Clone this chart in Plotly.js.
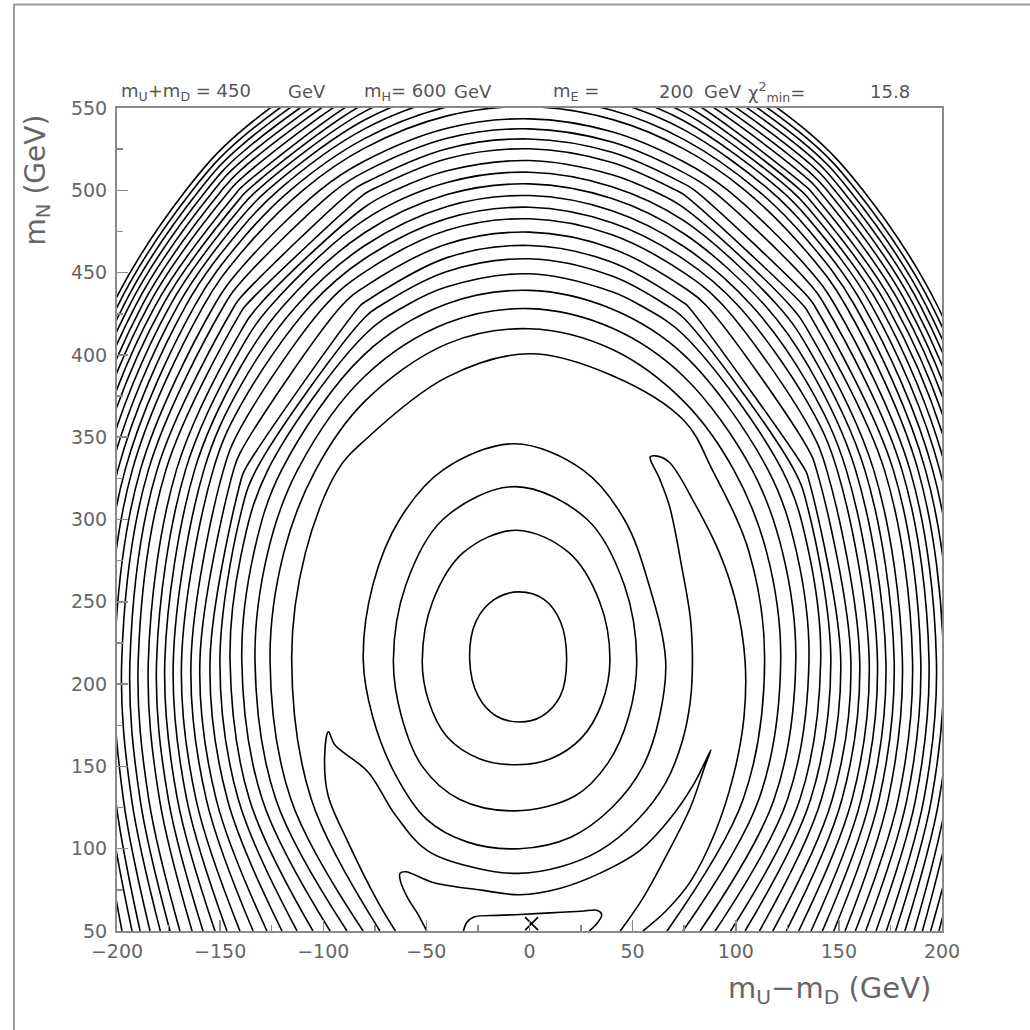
<!DOCTYPE html>
<html>
<head>
<meta charset="utf-8">
<script src="https://cdn.plot.ly/plotly-3.0.1.min.js"></script>
<style>
  html, body { margin: 0; padding: 0; background: #ffffff; }
  #chart { width: 1030px; height: 1030px; }
</style>
</head>
<body>
<div id="chart"></div>
<script>
// ---------- data ----------
// Outer contour family (index 0 = first contour outside the central ridge).
// Each array gives where contour j crosses one reading ray (null: no crossing).
const botL  = [-72.5,-80.7,-88.5,-96.7,-105,-112.7,-120,-127.3,-134,-140.4,-146.7,-152.5,-158.3,-163.6,-169.5,-174.3,-179,-184,-188.8,-192.7,-197.6,-201.5,-205.3,-209,-212.6,-216.1,-219.5,-222.8,-226,-229.1,-232.1,-235]; // x at y=50, left
const l130  = [-105.8,-115.7,-123.0,-129.6,-135.8,-141.2,-146.5,-151.9,-156.7,-161.7,-166.2,-170.7,-175.1,-179.4,-184.6,-188.8,-192.9,-196.9,-200.7,-204.2,-207.9,-211.4,-214.7,-217.9,-221.0,-224.0,-226.9,-229.7,-232.4,-235.0,-237.5,-239.9]; // x at y=130, left
const l215  = [-115.3,-125.8,-133.1,-139.5,-145.2,-150.1,-154.9,-159.8,-164.1,-168.7,-172.7,-176.8,-180.8,-184.8,-189.7,-193.7,-197.7,-201.3,-204.8,-208.2,-211.5,-214.7,-217.8,-220.8,-223.7,-226.5,-229.2,-231.8,-234.3,-236.7,-239,-241.2]; // x at y=214.5, left
const l280  = [-108.6,-119.1,-126.9,-133.6,null,null,null,null,null,null,null,null,null,null,null,null,null,null,null,null,null,null,null,null,null,null,null,null,null,null,null,null]; // x at y=280, left
const l330  = [-93,-103.7,-112.5,-120.2,-126.9,-132.6,-138.1,-143.5,-148.4,-153.4,-157.9,-162.4,-166.8,-171.2,-176.3,-180.6,-184.8,-188.7,-192.6,-196.1,-199.6,-203.0,-206.3,-209.4,-212.4,-215.4,-218.2,-220.9,-223.5,-226.0,-228.4,-230.7]; // x at y=330, left
const t140L = [null,null,null,null,277.5,303.4,323.5,341.2,355.8,369.5,381.3,392.8,403.7,414.3,425.8,435.0,444.1,452.5,461.7,469.2,476.4,483.2,489.5,495.6,501.5,507.0,512.3,517.3,522.2,526.9,531.4,535.8]; // y at x=-140
const l430  = [null,null,null,null,-59.8,-72.2,-82.0,-91.0,-99.1,-106.2,-112.8,-119.2,-125.3,-131.2,-137.6,-142.9,-148.1,-152.9,-158.0,-162.3,-166.6,-170.5,-174.3,-177.9,-181.4,-184.8,-187.9,-191.0,-194.0,-196.8,-199.6,-202.2]; // x at y=430, left
const l500  = [null,null,null,null,null,null,null,null,null,null,null,null,null,-65.2,-77.0,-85.8,-94.1,-101.7,-109.9,-116.0,-121.8,-127.1,-132.0,-136.7,-141.1,-145.3,-149.2,-153.0,-156.6,-160.1,-163.4,-166.6]; // x at y=500, left
const t80L  = [348,371.6,386.9,400.3,412.1,422.6,432.0,441.3,450.3,458.4,466.3,474.2,482.0,489.7,497.8,504.4,511.2,517.8,525.6,531.4,537.3,542.7,547.8,552.6,557.4,561.9,566.3,570.5,574.5,578.5,582.3,586.1]; // y at x=-80
const t40L  = [386.5,406.7,419.4,431.0,441.4,450.7,459.1,467.4,475.7,482.9,490.2,497.4,504.7,511.9,519.2,525.3,531.6,537.7,545.2,550.7,556.2,561.3,566.1,570.7,575.7,579.9,583.8,587.7,591.4,595.1,598.6,602.2]; // y at x=-40
const apex  = [400.7,415.9,428.1,439.2,449.3,458.4,466.5,474.6,482.7,489.7,496.8,503.9,511.0,518.1,525.2,531.2,537.3,543.4,550.8,556.2,561.6,566.6,571.3,575.8,580.2,584.4,588.4,592.3,596.1,599.8,603.4,607]; // y at x=0
const t40R  = [387.5,403.4,416.3,427.9,438.4,447.9,456.3,464.7,473.0,480.3,487.6,495.0,502.2,509.5,516.9,523.1,529.3,535.6,543.1,548.6,554.1,559.3,564.1,568.7,574.2,578.4,582.4,586.3,590.1,593.8,597.4,601]; // y at x=40
const t75R  = [360,371.5,386.6,399.9,411.8,422.1,431.5,440.8,449.8,457.9,465.7,473.6,481.4,489.2,497.2,503.9,510.6,517.2,525.0,530.8,536.7,542.1,547.2,552.1,556.8,561.4,565.7,569.9,574.0,577.9,581.7,585.6]; // y at x=75
const r500  = [null,null,null,null,null,null,null,null,null,null,null,null,null,59.2,71.1,80.1,88.5,96.2,104.5,110.6,116.5,121.9,126.8,131.5,136.0,140.2,144.2,148.0,151.6,155.1,158.4,161.7]; // x at y=500, right
const r430  = [null,null,null,null,53.9,66.6,76.5,85.7,93.9,101.1,107.7,114.2,120.3,126.3,132.8,138.1,143.3,148.2,153.3,157.7,161.9,165.9,169.7,173.3,176.8,180.2,183.4,186.5,189.5,192.3,195.1,197.7]; // x at y=430, right
const t135R = [null,null,null,null,282.5,306.7,325.9,343.0,357.3,370.7,382.2,393.6,404.3,414.8,426.1,435.3,444.3,452.7,461.7,469.2,476.4,483.1,489.4,495.5,501.3,506.8,512.0,517.1,522.0,526.6,531.1,535.5]; // y at x=135
const r330  = [88.7,99.1,108.0,115.7,122.5,128.3,133.7,139.2,144.1,149.2,153.6,158.1,162.6,166.9,172.1,176.4,180.6,184.5,188.4,192.0,195.5,198.9,202.1,205.3,208.3,211.2,214.0,216.7,219.3,221.8,224.2,226.5]; // x at y=330, right
const r280  = [106.5,115.0,122.7,129.5,null,null,null,null,null,null,null,null,null,null,null,null,null,null,null,null,null,null,null,null,null,null,null,null,null,null,null,null]; // x at y=280, right
const r215  = [114,121.8,129.1,135.5,141.2,146.1,150.9,155.8,160.1,164.7,168.7,172.8,176.8,180.8,185.7,189.7,193.7,197.3,200.8,204.2,207.5,210.7,213.8,216.8,219.7,222.5,225.2,227.8,230.3,232.7,235.0,237.2]; // x at y=214.5, right
const r130  = [103.6,111.2,118.6,125.1,131.1,136.3,141.5,146.8,151.5,156.4,160.8,165.2,169.5,173.9,178.8,183.0,187.2,191.2,194.9,198.6,202.2,205.6,209.8,212.8,215.7,218.5,221.2,223.8,226.3,228.7,231,233.2]; // x at y=130, right
const botR  = [66.7,74.4,82.7,90,97.5,104.5,111.5,118,124.5,130.5,136.5,142,147.5,153,158,163,168,173,177.5,182,186.5,190.5,194.5,198.5,202.5,206.3,210,213.6,217.1,220.5,223.8,227]; // x at y=50, right

// Inner contours around the local minimum (traced)
const ringE_x = [-5,-16,-25,-29,-26,-17,-5,7,15,18,15,6,-5];
const ringE_y = [177,180.5,193,214.5,238,251.5,256,251.5,238,214.5,193,180.5,177];
const ringD_x = [-6.5,-24,-40,-49,-52,-47,-32,-6.5,19,34,39,35,25,10,-6.5];
const ringD_y = [151,154.5,168,190,214.5,250,280,293.5,280,250,214.5,188,167,154.5,151];
const ringC_x = [-7,-34,-52,-62,-66,-60,-42,-7,28,46,52,48,38,22,-7];
const ringC_y = [123,130,150,180,214.5,260,300,320,300,260,214.5,180,152,132,123];
const ringB_x = [-5,-30,-50,-65,-76,-80.6,-76,-63,-42,-7.3,26,46,58,66,63,55,40,20,-5];
const ringB_y = [100,104,118,145,180,214.5,260,300,330,346,330,300,260,214.5,180,150,125,107,100];
// Horseshoe valley contour (left and right "bananas")
const valley_x = [-65,-73.5,-88,-97.7,-99.3,-97.5,-94.3,-78.3,-65,-49.7,-25,-5,15,34.2,52,66,74,78,79,78,74,68,63,58.5,62,68,80,92,100,104.5,104,99,90,78,66,55];
const valley_y = [50,67.7,104,132.6,157,171,163,146.6,120.4,99,88,85,89,99,117,140,165,190,214.5,240,270,307.5,325,338,338.5,334.5,310,280,250,214.5,180,145,110,80,62,50];
// Lower valley contour
const lowValley_x = [-49.8,-54,-59,-62.5,-62.8,-60,-46.8,-22.5,-4.6,15,34,53.6,68,80,86,88,85,78,66,55,44];
const lowValley_y = [50,60,70,80,85,86,79.5,74.7,72,76,85,99,118,140,155,160,150,125,95,70,50];
// Contour around the global minimum
const minRing_x = [-32,-30.5,-27,-15,-4.6,10,25,33,35,33,29];
const minRing_y = [50,55,58.5,59.5,60,61,62,62.5,60,55,50];
// Best-fit point
const best_x = [1];
const best_y = [54.5];

// Axis ticks
const xTicks = [-200,-150,-100,-50,0,50,100,150,200];
const yTicks = [50,100,150,200,250,300,350,400,450,500,550];

// Header texts (left edge in pixels)
const header = [
  {t:'m<sub>U</sub>+m<sub>D</sub> = 450', px:119},
  {t:'GeV', px:286},
  {t:'m<sub>H</sub>= 600', px:362},
  {t:'GeV', px:452},
  {t:'m<sub>E</sub> =', px:551},
  {t:'200', px:657},
  {t:'GeV', px:702},
  {t:'χ<sup>2</sup><sub>min</sub>=', px:746},
  {t:'15.8', px:868}
];

// ---------- build ----------
const CX = -3.5, CY = 214.5; // reference point used only to order ray readings
const lineStyle = {color:'#000', width:1.6, shape:'spline', smoothing:1};
const traces = [];

for (let j = 0; j < apex.length; j++) {
  const pts = [];
  const add = (x, y) => { if (x !== null && y !== null) pts.push([x, y]); };
  add(botL[j], 50); add(l130[j], 130); add(l215[j], 214.5); add(l280[j], 280); add(l330[j], 330);
  add(-140, t140L[j]); add(l430[j], 430); add(l500[j], 500);
  add(-80, t80L[j]); add(-40, t40L[j]); add(0, apex[j]); add(40, t40R[j]); add(75, t75R[j]);
  add(r500[j], 500); add(r430[j], 430); add(135, t135R[j]);
  add(r330[j], 330); add(r280[j], 280); add(r215[j], 214.5); add(r130[j], 130); add(botR[j], 50);
  const ang = p => { let a = Math.atan2(p[1] - CY, p[0] - CX) * 180 / Math.PI; if (a < -90) a += 360; return a; };
  pts.sort((a, b) => ang(b) - ang(a));
  traces.push({type:'scatter', mode:'lines', x:pts.map(p=>p[0]), y:pts.map(p=>p[1]),
    line:lineStyle, hoverinfo:'skip', showlegend:false});
}
[[ringE_x,ringE_y],[ringD_x,ringD_y],[ringC_x,ringC_y],[ringB_x,ringB_y],
 [valley_x,valley_y],[lowValley_x,lowValley_y],[minRing_x,minRing_y]].forEach(([xs,ys]) => {
  traces.push({type:'scatter', mode:'lines', x:xs, y:ys, line:lineStyle, hoverinfo:'skip', showlegend:false});
});
traces.push({type:'scatter', mode:'markers', x:best_x, y:best_y,
  marker:{symbol:'x-thin', size:13, line:{width:1.6, color:'#000'}}, hoverinfo:'skip', showlegend:false});

const L = 117, R = 942, T = 107.5, B = 931;
const W = R - L, H = B - T;
const px2x = px => (px - L) / W;
const py2y = py => (B - py) / H;

const tickFont = {family:'DejaVu Sans, Liberation Sans, sans-serif', size:19, color:'#666'};
const axisCommon = {
  showgrid:false, zeroline:false, showline:true, linecolor:'#8a8a8a', linewidth:2, mirror:true,
  ticks:'inside', ticklen:11, tickwidth:1.5, tickcolor:'#8a8a8a', tickfont:tickFont,
  minor:{ticks:'inside', ticklen:6, tickwidth:1.5, tickcolor:'#8a8a8a', dtick:25, showgrid:false},
  fixedrange:true
};

const annotations = header.map(h => ({
  xref:'paper', yref:'paper', x:px2x(h.px), y:py2y(91), xanchor:'left', yanchor:'middle',
  text:h.t, showarrow:false, font:{family:'DejaVu Sans, sans-serif', size:18, color:'#555'}
}));
annotations.push({xref:'paper', yref:'paper', x:px2x(37), y:py2y(180), xanchor:'center', yanchor:'middle',
  textangle:-90, text:'m<sub>N</sub> (GeV)', showarrow:false,
  font:{family:'DejaVu Sans, sans-serif', size:28, color:'#666'}});
annotations.push({xref:'paper', yref:'paper', x:px2x(829), y:py2y(990), xanchor:'center', yanchor:'middle',
  text:'m<sub>U</sub>−m<sub>D</sub> (GeV)', showarrow:false,
  font:{family:'DejaVu Sans, sans-serif', size:29, color:'#666'}});

const layout = {
  width:1030, height:1030,
  margin:{l:L, r:1030-R, t:T, b:1030-B, pad:0},
  paper_bgcolor:'#ffffff', plot_bgcolor:'#ffffff',
  showlegend:false,
  xaxis:Object.assign({}, axisCommon, {range:[-200,200], tickvals:xTicks,
    ticktext:xTicks.map(v=>v<0?'−'+Math.abs(v):String(v)), ticklabelstandoff:2}),
  yaxis:Object.assign({}, axisCommon, {range:[50,550], tickvals:yTicks, ticklabelstandoff:4}),
  annotations:annotations,
  shapes:[{type:'rect', xref:'paper', yref:'paper',
    x0:px2x(14), x1:px2x(1045), y0:py2y(1045), y1:py2y(4),
    line:{color:'#9a9a9a', width:2}, fillcolor:'rgba(0,0,0,0)', layer:'below'}]
};

Plotly.newPlot('chart', traces, layout, {staticPlot:true, displayModeBar:false});
</script>
</body>
</html>
